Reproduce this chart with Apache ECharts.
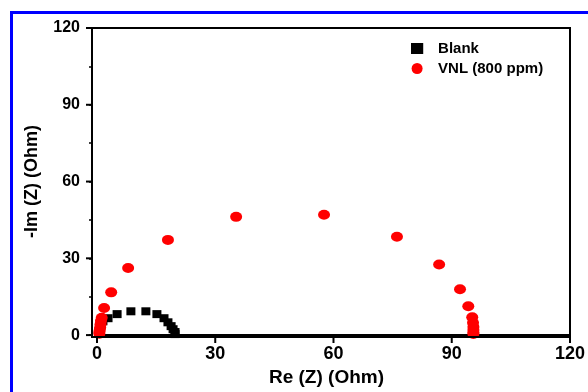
<!DOCTYPE html>
<html>
<head>
<meta charset="utf-8">
<script src="https://cdn.jsdelivr.net/npm/echarts@6/dist/echarts.min.js"></script>
<style>
  html, body {margin: 0; padding: 0; background: #fff;}
  #wrap {position: relative; width: 588px; height: 392px; overflow: hidden;}
  #frame {position: absolute; left: 10px; top: 11px; width: 600px; height: 400px;
    border: 3px solid #0000ff; box-sizing: border-box;}
  #chart {position: absolute; left: 0; top: 0; width: 588px; height: 392px;}
</style>
</head>
<body>
<div id="wrap">
  <div id="frame"></div>
  <div id="chart"></div>
</div>
<script>
// Nyquist data: [Re(Z), -Im(Z)] in Ohm
var blankData = [
  [0.8, 1.6], [1.0, 3.9], [1.5, 5.4], [2.8, 6.6], [5.1, 8.2], [8.6, 9.3],
  [12.4, 9.3], [15.2, 8.2], [17.0, 6.6], [18.0, 5.0], [18.8, 3.5],
  [19.3, 2.3], [19.8, 1.2], [19.8, 0.4]
];
var vnlData = [
  [0.6, 0.5], [0.6, 1.2], [0.7, 2.0], [0.8, 3.0], [0.9, 4.2], [1.0, 5.5],
  [1.2, 6.8], [1.8, 10.6], [3.6, 16.7], [7.9, 26.2], [18.0, 37.2],
  [35.3, 46.2], [57.6, 47.0], [76.1, 38.4], [86.8, 27.6], [92.1, 17.9],
  [94.2, 11.3], [95.2, 7.0], [95.4, 4.8], [95.5, 3.2], [95.5, 2.0],
  [95.5, 1.0], [95.5, 0.4]
];
var seriesNames = ['Blank', 'VNL (800 ppm)'];
var xTicks = [0, 120, 30, 15];   // min, max, major interval, minor interval
var yTicks = [0, 120, 30, 15];
var majorValues = [0, 30, 60, 90, 120];

var G = {left: 97, right: 18, top: 28, bottom: 55};
var font = 'Liberation Sans, Arial, sans-serif';

function mainAxis(t) {
  return {
    type: 'value', min: t[0], max: t[1], interval: t[2],
    axisLine: {show: true, onZero: false, lineStyle: {color: '#000', width: 2}},
    axisTick: {show: false},
    splitLine: {show: false}
  };
}
// overlay axis: short ticks only
function tickAxis(t) {
  return {
    type: 'value', min: t[0], max: t[1], interval: t[3],
    axisLine: {show: false, onZero: false},
    axisTick: {show: true, length: 3, lineStyle: {color: '#000', width: 1.5}},
    axisLabel: {show: false},
    splitLine: {show: false}
  };
}

var chart = echarts.init(document.getElementById('chart'));
chart.setOption({
  animation: false,
  grid: {left: G.left, right: G.right, top: G.top, bottom: G.bottom},
  legend: {
    orient: 'vertical',
    left: 406, top: 36,
    itemWidth: 32, itemHeight: 11, itemGap: 5,
    symbolKeepAspect: true,
    textStyle: {fontFamily: font, fontWeight: 'bold', fontSize: 15, color: '#000'},
    data: [
      {name: seriesNames[0], icon: 'path://M0,0h10v9h-10z'},
      {name: seriesNames[1], icon: 'circle'}
    ]
  },
  xAxis: [
    Object.assign(mainAxis(xTicks), {
      position: 'bottom',
      name: 'Re (Z) (Ohm)', nameLocation: 'middle', nameGap: 32,
      nameTextStyle: {fontFamily: font, fontWeight: 'bold', fontSize: 19, color: '#000',
        padding: [0, 14, 0, 0]},
      axisLabel: {margin: 10, fontFamily: font, fontWeight: 'bold', fontSize: 18, color: '#000'}
    }),
    Object.assign(tickAxis(xTicks), {position: 'bottom'})
  ],
  yAxis: [
    Object.assign(mainAxis(yTicks), {
      position: 'left', offset: 5,
      name: '-Im (Z) (Ohm)', nameLocation: 'middle', nameGap: 51,
      nameTextStyle: {fontFamily: font, fontWeight: 'bold', fontSize: 18, color: '#000'},
      axisLabel: {margin: 12, fontFamily: font, fontWeight: 'bold', fontSize: 16, color: '#000'}
    }),
    Object.assign(tickAxis(yTicks), {position: 'left', offset: 5})
  ],
  series: [
    {name: seriesNames[0], type: 'scatter', data: blankData, symbol: 'rect', symbolSize: [9, 8],
      xAxisIndex: 0, yAxisIndex: 0, itemStyle: {color: '#000', opacity: 1}},
    {name: seriesNames[1], type: 'scatter', data: vnlData, symbol: 'circle', symbolSize: [12, 10],
      xAxisIndex: 0, yAxisIndex: 0, itemStyle: {color: '#ff0000', opacity: 1}}
  ]
});

// frame box and the longer ticks at the labelled values, placed through the axes' scales
var bottomY = 392 - G.bottom, axisX = G.left - 5;
var els = [{
  type: 'rect', z: 100, silent: true,
  shape: {x: axisX, y: G.top, width: 588 - G.right - axisX, height: bottomY - G.top},
  style: {fill: 'none', stroke: '#000', lineWidth: 2}
}];
majorValues.forEach(function (v) {
  var px = chart.convertToPixel({xAxisIndex: 0}, v);
  var py = chart.convertToPixel({yAxisIndex: 0}, v);
  els.push({type: 'line', z: 100, silent: true,
    shape: {x1: px, y1: bottomY, x2: px, y2: bottomY + 6},
    style: {stroke: '#000', lineWidth: 2}});
  els.push({type: 'line', z: 100, silent: true,
    shape: {x1: axisX - 6, y1: py, x2: axisX, y2: py},
    style: {stroke: '#000', lineWidth: 2}});
});
chart.setOption({graphic: els});
</script>
</body>
</html>
